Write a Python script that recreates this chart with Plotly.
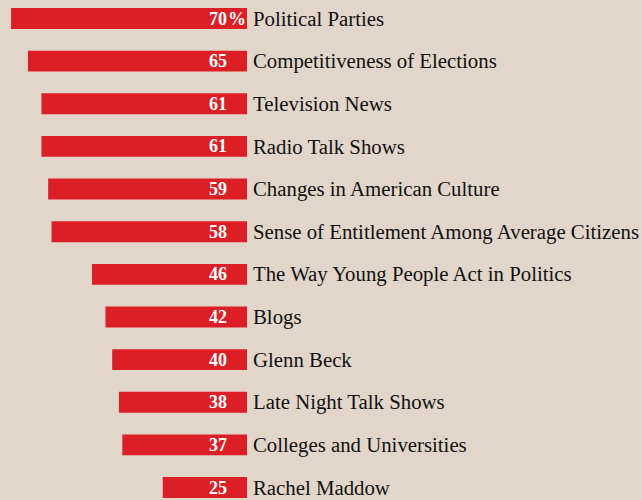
import plotly.graph_objects as go

categories = ["Political Parties", "Competitiveness of Elections", "Television News",
              "Radio Talk Shows", "Changes in American Culture",
              "Sense of Entitlement Among Average Citizens",
              "The Way Young People Act in Politics", "Blogs", "Glenn Beck",
              "Late Night Talk Shows", "Colleges and Universities", "Rachel Maddow"]
values = [70, 65, 61, 61, 59, 58, 46, 42, 40, 38, 37, 25]
value_labels = ["70", "65", "61", "61", "59", "58", "46", "42", "40", "38", "37", "25"]

BG = "#e2d6ca"
RED = "#dc1f27"
px_per_unit = 3.37
zero_px = 247
W, H = 642, 500

fig = go.Figure()
fig.add_trace(go.Bar(
    y=categories, x=values, orientation="h",
    marker=dict(color=RED, line=dict(width=0)),
    width=0.49, hoverinfo="skip",
))

num_font = dict(family="Liberation Serif", size=18, color="white")
annotations = []
for cat, v, lab in zip(categories, values, value_labels):
    annotations.append(dict(x=5.5, y=cat, xref="x", yref="y", text="<b>" + lab + "</b>",
                            showarrow=False, xanchor="right", yanchor="middle",
                            borderpad=0, font=num_font))
    annotations.append(dict(x=-1.55, y=cat, xref="x", yref="y", text=cat,
                            showarrow=False, xanchor="left", yanchor="middle",
                            borderpad=0,
                            font=dict(family="Liberation Serif", size=20.8, color="#111111")))
# percent sign after first value
annotations.append(dict(x=6.0, y=categories[0], xref="x", yref="y", text="<b>%</b>",
                        showarrow=False, xanchor="left", yanchor="middle",
                        borderpad=0, font=num_font))

x_left = zero_px / px_per_unit
x_right = x_left - W / px_per_unit
row_px = 42.64
first_center = 18.5
y_top = -first_center / row_px
y_bot = (H - first_center) / row_px

fig.update_layout(
    width=W, height=H,
    margin=dict(l=0, r=0, t=0, b=0),
    paper_bgcolor=BG, plot_bgcolor=BG,
    showlegend=False,
    annotations=annotations,
    xaxis=dict(range=[x_left, x_right], visible=False, fixedrange=True),
    yaxis=dict(type="category", categoryarray=categories,
               range=[y_bot, y_top], visible=False, fixedrange=True),
)
fig.write_html("out.html", config={"displayModeBar": False})
